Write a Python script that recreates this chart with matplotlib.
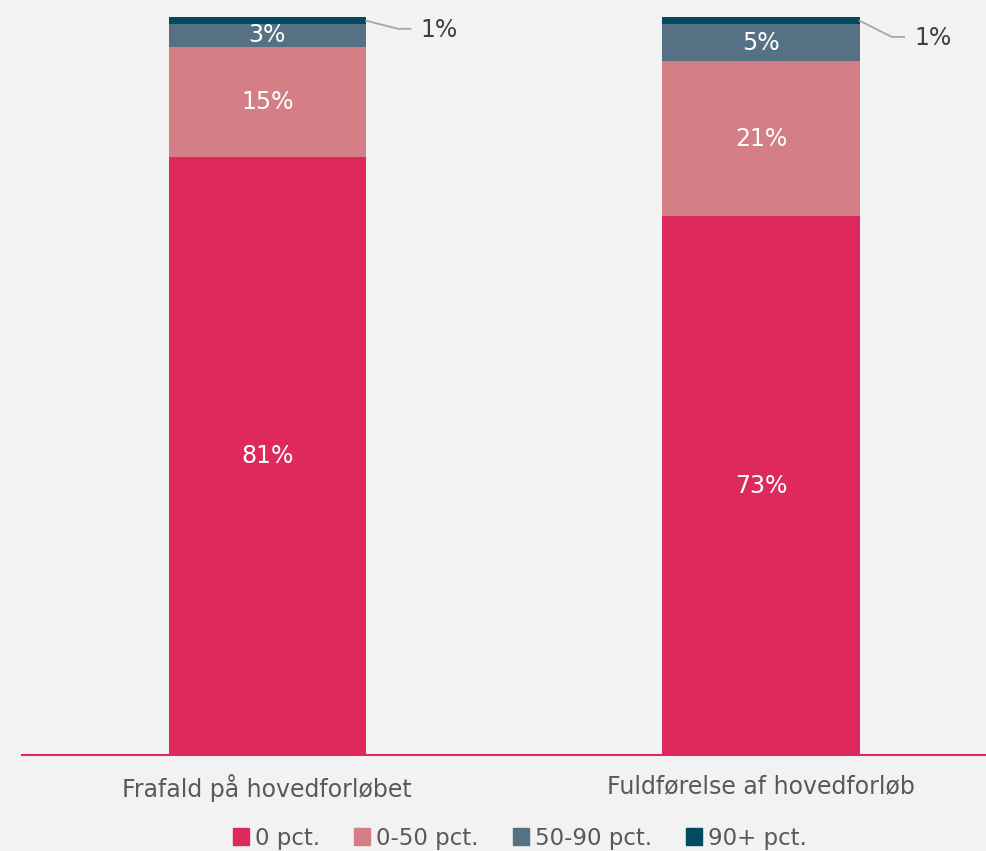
import matplotlib
matplotlib.use('Agg')
import matplotlib.pyplot as plt
from matplotlib.patches import Patch

plt.rcParams['font.family'] = ['DejaVu Sans']

categories = ['Frafald på hovedforløbet', 'Fuldførelse af hovedforløb']
series = ['0 pct.', '0-50 pct.', '50-90 pct.', '90+ pct.']
values = {
    '0 pct.': [81, 73],
    '0-50 pct.': [15, 21],
    '50-90 pct.': [3, 5],
    '90+ pct.': [1, 1],
}
COLORS = {'0 pct.': '#DD295B', '0-50 pct.': '#D47F85', '50-90 pct.': '#557183', '90+ pct.': '#004B60'}
BG = '#F2F2F2'

W, H = 987, 851
fig = plt.figure(figsize=(W / 100, H / 100), dpi=100, facecolor=BG)
ax = fig.add_axes([22 / W, (H - 755) / H, (987 - 22) / W, (755 - 17) / H], facecolor=BG)

x = list(range(len(categories)))
bw = 0.4
bottom = [0] * len(categories)
for s in series:
    v = values[s]
    ax.bar(x, v, bw, bottom=bottom, color=COLORS[s], label=s, linewidth=0)
    if s != '90+ pct.':
        for i in x:
            ax.text(i, bottom[i] + v[i] / 2, f'{v[i]}%', ha='center', va='center',
                    color='white', fontsize=17)
    bottom = [b + vv for b, vv in zip(bottom, v)]

# leader lines for the small top segment
top = values['90+ pct.']
for i, dy, in zip(x, [1.1, 2.2]):
    y0 = bottom[i] - top[i] / 2
    ax.plot([i + bw / 2, i + bw / 2 + 0.065, i + bw / 2 + 0.09],
            [y0, y0 - dy, y0 - dy], color='#A6A6A6', lw=1.3, clip_on=False)
    ax.text(i + bw / 2 + 0.11, y0 - dy - 0.1, f'{top[i]}%', ha='left', va='center',
            color='#404040', fontsize=17)

ax.set_xlim(-0.497, 1.458)
ax.set_ylim(0, 100)
for sp in ['top', 'right', 'left']:
    ax.spines[sp].set_visible(False)
ax.spines['bottom'].set_color('#DD295B')
ax.spines['bottom'].set_linewidth(1.5)
ax.set_yticks([])
ax.set_xticks(x)
ax.set_xticklabels(categories, fontsize=17, color='#595959')
ax.tick_params(axis='x', length=0, pad=14)

handles = [Patch(color=COLORS[s], label=s) for s in series]
fig.legend(handles=handles, loc='center', bbox_to_anchor=(520 / W, 1 - 838 / H), ncol=4,
           frameon=False, fontsize=16.5, handlelength=0.7, handleheight=0.7,
           handletextpad=0.25, columnspacing=1.5, labelcolor='#595959')

fig.savefig('out.png', dpi=100, facecolor=BG)
